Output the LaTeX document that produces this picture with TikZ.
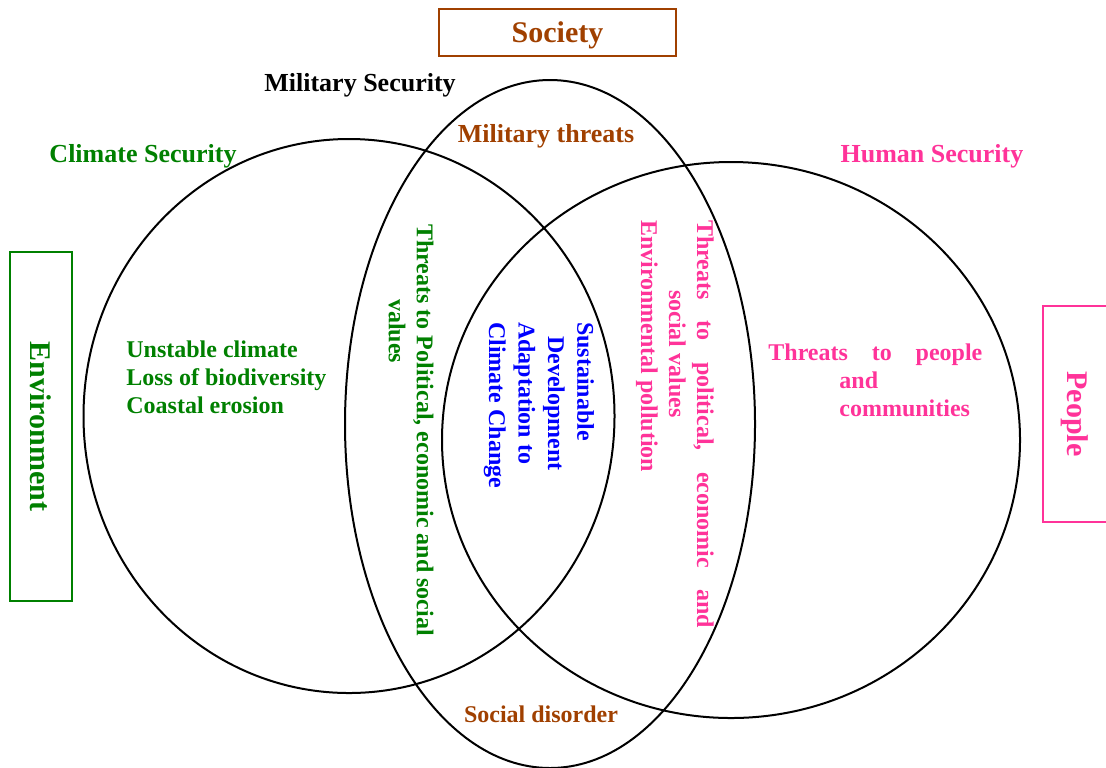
\documentclass[tikz,border=0pt]{standalone}
\usepackage{fontspec}
\setmainfont{Liberation Serif}
\usepackage{xcolor}
\definecolor{envgreen}{RGB}{0,128,0}
\definecolor{socbrown}{RGB}{160,64,0}
\definecolor{peoplepink}{RGB}{255,51,153}
\definecolor{devblue}{RGB}{0,0,255}
\tikzset{
	label/.style={inner sep=0pt, font=\fontsize{13}{15}\selectfont\bfseries},
	body/.style={inner sep=0pt, font=\fontsize{12}{14}\selectfont\bfseries},
	vbody/.style={body, rotate=-90, align=left},
	sector/.style={draw=#1, line width=1pt, text=#1, inner sep=0pt,
			font=\fontsize{15}{17}\selectfont\bfseries}
}
\begin{document}
\begin{tikzpicture}[x=0.5pt, y=-0.5pt]
        \useasboundingbox (0,0) rectangle (1106,767);

        % Circles of the three securities
        \draw[line width=1pt] (349,416) ellipse [x radius=132.75pt, y radius=138.5pt];
        \draw[line width=1pt] (550,424) ellipse [x radius=102.5pt, y radius=172pt];
        \draw[line width=1pt] (731,440) ellipse [x radius=144.5pt, y radius=139pt];

        % Sector boxes
        \node[sector=socbrown, minimum width=118.5pt, minimum height=23.5pt] (society) at (557.5,32.5) {};
        \node[sector=socbrown, draw=none] (societytext) at (557.5,35) {Society};
        \node[sector=envgreen, minimum width=31pt, minimum height=174.5pt] (environment) at (41,426.5) {};
        \node[sector=envgreen, draw=none, rotate=-90] (environmenttext) at (41,426.5) {Environment};
        \node[sector=peoplepink, minimum width=32pt, minimum height=108pt] (people) at (1075,414) {};
        \node[sector=peoplepink, draw=none, rotate=-90] (peopletext) at (1075,414) {People};

        % Headings
        \node[label] (military) at (360,85) {Military Security};
        \node[label, text=envgreen] (climate) at (143,156) {Climate Security};
        \node[label, text=socbrown] (milthreats) at (546,136) {Military threats};
        \node[label, text=peoplepink] (human) at (932,156) {Human Security};
        \node[body, text=socbrown] (disorder) at (541,714) {Social disorder};

        % Climate only
        \node[body, text=envgreen, align=left, anchor=west] (climatelist) at (126,377)
                {Unstable climate\\ Loss of biodiversity\\ Coastal erosion};

        % Climate and military
        \node[vbody, text=envgreen] (polthreats) at (411,430)
                {Threats to Political, economic and social\\ \hspace*{37.5pt}values};

        % All three
        \node[vbody, text=devblue, font=\fontsize{12}{14.7}\selectfont\bfseries] (sustain) at (539,405)
                {Sustainable\\ \hspace*{7pt}Development\\ Adaptation to\\ Climate Change};

        % Military and human
        \node[vbody, text=peoplepink] (socthreats) at (675,424)
                {\hbox to 204pt{Threats\hfill to\hfill political,\hfill economic\hfill and}\\
                 \hspace*{35pt}social values\\ Environmental pollution};

        % Human only
        \node[body, text=peoplepink, align=left, anchor=west] (peoplethreats) at (768,380)
                {\hbox to 107pt{Threats\hfill to\hfill people}\\ \hspace*{35.5pt}and\\ \hspace*{35.5pt}communities};
    \end{tikzpicture}
\end{document}
